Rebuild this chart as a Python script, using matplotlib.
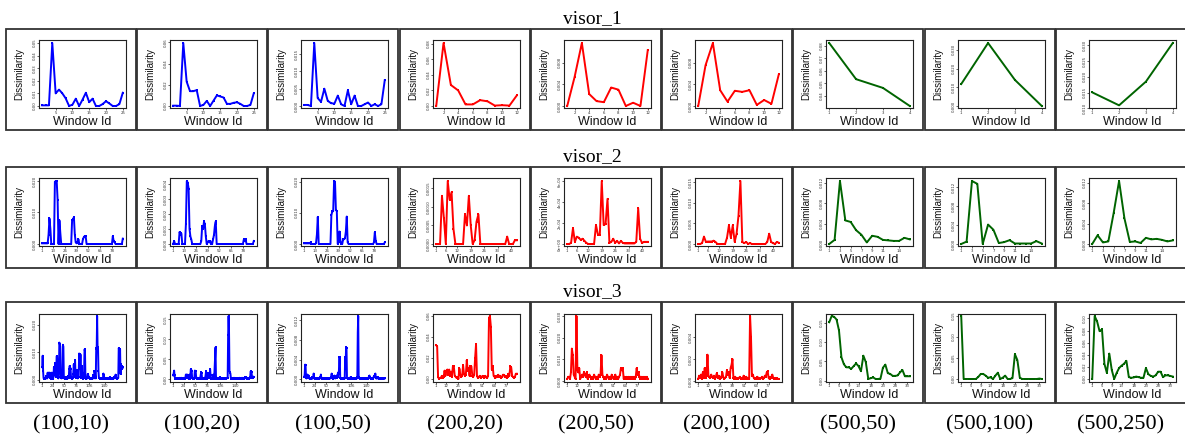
import matplotlib
matplotlib.use("Agg")
import matplotlib.pyplot as plt
from matplotlib.patches import Rectangle

W, H = 1185, 440

row_titles = ["visor_1", "visor_2", "visor_3"]
settings = ["(100,10)", "(100,20)", "(100,50)", "(200,20)", "(200,50)",
            "(200,100)", "(500,50)", "(500,100)", "(500,250)"]
line_colors = ["#0000FF", "#0000FF", "#0000FF", "#FF0000", "#FF0000",
               "#FF0000", "#006400", "#006400", "#006400"]

# ---------------- visor_1 ----------------
v1_100_10 = [0.0005, 0.0005, 0.0005, 0.0500, 0.0100, 0.0130, 0.0100, 0.0060, 0.0000, 0.0010,
             0.0058, 0.0000, 0.0050, 0.0105, 0.0030, 0.0058, 0.0000, 0.0000, 0.0015, 0.0038,
             0.0020, 0.0000, 0.0000, 0.0015, 0.0105]
v1_100_20 = [0.0003, 0.0003, 0.0000, 0.0595, 0.0230, 0.0140, 0.0140, 0.0150, 0.0000, 0.0010,
             0.0048, 0.0000, 0.0050, 0.0100, 0.0090, 0.0080, 0.0020, 0.0020, 0.0030, 0.0035,
             0.0020, 0.0000, 0.0000, 0.0010, 0.0120]
v1_100_50 = [0.0003, 0.0003, 0.0000, 0.0182, 0.0023, 0.0012, 0.0050, 0.0015, 0.0008, 0.0007,
             0.0030, 0.0005, 0.0000, 0.0045, 0.0005, 0.0030, 0.0000, 0.0000, 0.0005, 0.0010,
             0.0000, 0.0005, 0.0000, 0.0005, 0.0075]
v1_200_20 = [0.000, 0.081, 0.027, 0.020, 0.002, 0.002, 0.0075, 0.006, 0.0005, 0.001, 0.0005, 0.0135]
v1_200_50 = [0.0000, 0.0053, 0.0116, 0.0022, 0.0009, 0.0007, 0.0034, 0.0030, 0.0000, 0.0006, 0.0000, 0.0103]
v1_200_100 = [0.0000, 0.0075, 0.0116, 0.0029, 0.0008, 0.0028, 0.0026, 0.0029, 0.0002, 0.0011, 0.0004, 0.0058]
v1_500_50 = [0.0820, 0.0534, 0.0465, 0.0322]
v1_500_100 = [0.0117, 0.0336, 0.0139, 0.0000]
v1_500_250 = [0.0151, 0.0110, 0.0185, 0.0307]

# ---------------- visor_2 ----------------
v2_100_10 = [0.0002, 0.0002, 0.0002, 0.0002, 0.0002, 0.0002, 0.0002, 0.0030, 0.0081, 0.0048,
             0.0000, 0.0000, 0.0000, 0.0000, 0.0198, 0.0199, 0.0200, 0.0140, 0.0000, 0.0075,
             0.0035, 0.0000, 0.0000, 0.0000, 0.0000, 0.0000, 0.0000, 0.0000, 0.0000, 0.0000,
             0.0000, 0.0000, 0.0000, 0.0075, 0.0078, 0.0085, 0.0030, 0.0005, 0.0002, 0.0005,
             0.0015, 0.0000, 0.0000, 0.0000, 0.0000, 0.0015, 0.0022, 0.0025, 0.0025, 0.0000,
             0.0000, 0.0000, 0.0000, 0.0000, 0.0000, 0.0000, 0.0000, 0.0000, 0.0000, 0.0000,
             0.0000, 0.0000, 0.0000, 0.0000, 0.0000, 0.0000, 0.0000, 0.0000, 0.0000, 0.0000,
             0.0000, 0.0000, 0.0000, 0.0000, 0.0000, 0.0000, 0.0000, 0.0000, 0.0025, 0.0008,
             0.0005, 0.0000, 0.0000, 0.0000, 0.0000, 0.0000, 0.0000, 0.0000, 0.0000, 0.0017]
v2_100_20 = [0.0000, 0.0002, 0.0000, 0.0000, 0.0000, 0.0000, 0.0000, 0.0008, 0.0006, 0.0007,
             0.0000, 0.0000, 0.0000, 0.0000, 0.0013, 0.0042, 0.0041, 0.0037, 0.0010, 0.0005,
             0.0003, 0.0000, 0.0000, 0.0000, 0.0000, 0.0000, 0.0000, 0.0000, 0.0000, 0.0000,
             0.0000, 0.0002, 0.0012, 0.0010, 0.0015, 0.0013, 0.0005, 0.0000, 0.0001, 0.0002,
             0.0001, 0.0002, 0.0000, 0.0000, 0.0003, 0.0006, 0.0012, 0.0015, 0.0000, 0.0000,
             0.0000, 0.0000, 0.0000, 0.0000, 0.0000, 0.0000, 0.0000, 0.0000, 0.0000, 0.0000,
             0.0000, 0.0000, 0.0000, 0.0000, 0.0000, 0.0000, 0.0000, 0.0000, 0.0000, 0.0000,
             0.0000, 0.0000, 0.0000, 0.0000, 0.0000, 0.0000, 0.0000, 0.0000, 0.0003, 0.0002,
             0.0003, 0.0000, 0.0000, 0.0000, 0.0000, 0.0000, 0.0000, 0.0000, 0.0000, 0.0002]
v2_100_50 = [0.0002, 0.0002, 0.0002, 0.0002, 0.0002, 0.0002, 0.0002, 0.0005, 0.0000, 0.0000,
             0.0000, 0.0000, 0.0000, 0.0002, 0.0030, 0.0087, 0.0000, 0.0000, 0.0000, 0.0000,
             0.0000, 0.0000, 0.0000, 0.0000, 0.0000, 0.0000, 0.0000, 0.0000, 0.0000, 0.0000,
             0.0092, 0.0105, 0.0105, 0.0202, 0.0200, 0.0110, 0.0105, 0.0000, 0.0005, 0.0040,
             0.0010, 0.0000, 0.0000, 0.0015, 0.0015, 0.0018, 0.0040, 0.0088, 0.0005, 0.0000,
             0.0000, 0.0000, 0.0000, 0.0000, 0.0000, 0.0000, 0.0000, 0.0000, 0.0000, 0.0000,
             0.0000, 0.0000, 0.0000, 0.0000, 0.0000, 0.0000, 0.0000, 0.0000, 0.0000, 0.0000,
             0.0000, 0.0000, 0.0000, 0.0000, 0.0000, 0.0000, 0.0000, 0.0005, 0.0037, 0.0010,
             0.0000, 0.0000, 0.0000, 0.0000, 0.0000, 0.0000, 0.0000, 0.0000, 0.0000, 0.0005]
v2_200_20 = [0.0000, 0.0000, 0.0000, 0.0013, 0.0007, 0.0000, 0.0017, 0.0012, 0.0014, 0.0004,
             0.0000, 0.0000, 0.0000, 0.0000, 0.0000, 0.0008, 0.0005, 0.0013, 0.0005, 0.0000,
             0.0001, 0.0006, 0.0008, 0.0000, 0.0000, 0.0000, 0.0000, 0.0000, 0.0000, 0.0000,
             0.0000, 0.0000, 0.0000, 0.0000, 0.0000, 0.0000, 0.0000, 0.0002, 0.0000, 0.0000,
             0.0000, 0.0001, 0.0001]
v2_200_50 = [0.0000, 0.0000, 0.00001, 0.00015, 0.00002, 0.00007, 0.00006, 0.00004, 0.00005, 0.00003,
             0.00001, 0.0000, 0.0000, 0.0000, 0.0000, 0.00018, 0.00009, 0.00009, 0.00060, 0.00018,
             0.00019, 0.00043, 0.00001, 0.00002, 0.00005, 0.00001, 0.00003, 0.000005, 0.00003, 0.00001,
             0.000005, 0.000005, 0.000005, 0.000005, 0.000005, 0.000005, 0.00002, 0.00034, 0.00005, 0.00001,
             0.00002, 0.00002, 0.00002]
v2_200_100 = [0.0000, 0.0000, 0.0002, 0.0018, 0.0005, 0.0006, 0.0006, 0.0006, 0.0008, 0.0005,
              0.0000, 0.0000, 0.0000, 0.0000, 0.0000, 0.0015, 0.0045, 0.0015, 0.0045, 0.0005,
              0.0025, 0.0069, 0.0153, 0.0005, 0.0002, 0.0005, 0.0000, 0.0002, 0.0000, 0.0000,
              0.0000, 0.0000, 0.0000, 0.0000, 0.0000, 0.0000, 0.0005, 0.0025, 0.0005, 0.0002,
              0.0000, 0.0005, 0.0003]
v2_500_50 = [0.0000, 0.0008, 0.0123, 0.0046, 0.0043, 0.0027, 0.0018, 0.0003, 0.0016, 0.0014,
             0.0008, 0.0007, 0.0006, 0.0006, 0.0012, 0.0009]
v2_500_100 = [0.0000, 0.0005, 0.0133, 0.0127, 0.0000, 0.0041, 0.0030, 0.0002, 0.0004, 0.0008,
              0.0001, 0.0001, 0.0001, 0.0001, 0.0006, 0.0001]
v2_500_250 = [0.0000, 0.0017, 0.0003, 0.0005, 0.0061, 0.0123, 0.0050, 0.0004, 0.0005, 0.0002,
              0.0012, 0.0009, 0.0010, 0.0008, 0.0005, 0.0007]

# ---------------- visor_3 ----------------
v3_100_10 = [0.0045, 0.0087, 0.0030, 0.0005, 0.0003, 0.0006, 0.0004, 0.0002, 0.0005, 0.0012,
             0.0006, 0.0004, 0.0025, 0.0008, 0.0025, 0.0010, 0.0025, 0.0025, 0.0006, 0.0008,
             0.0003, 0.0025, 0.0025, 0.0006, 0.0003, 0.0010, 0.0045, 0.0015, 0.0040, 0.0060,
             0.0020, 0.0010, 0.0085, 0.0085, 0.0030, 0.0005, 0.0004, 0.0010, 0.0135, 0.0130,
             0.0120, 0.0030, 0.0005, 0.0004, 0.0020, 0.0006, 0.0127, 0.0120, 0.0010, 0.0004,
             0.0005, 0.0003, 0.0008, 0.0004, 0.0002, 0.0006, 0.0003, 0.0005, 0.0012, 0.0006,
             0.0040, 0.0050, 0.0045, 0.0040, 0.0008, 0.0004, 0.0006, 0.0003, 0.0005, 0.0020,
             0.0055, 0.0045, 0.0010, 0.0070, 0.0020, 0.0006, 0.0035, 0.0035, 0.0008, 0.0004,
             0.0006, 0.0010, 0.0095, 0.0094, 0.0040, 0.0092, 0.0030, 0.0006, 0.0050, 0.0008,
             0.0004, 0.0003, 0.0006, 0.0025, 0.0110, 0.0105, 0.0010, 0.0004, 0.0003, 0.0006,
             0.0004, 0.0020, 0.0018, 0.0006, 0.0010, 0.0004, 0.0003, 0.0005, 0.0002, 0.0004,
             0.0003, 0.0006, 0.0004, 0.0015, 0.0008, 0.0004, 0.0030, 0.0025, 0.0008, 0.0004,
             0.0115, 0.0110, 0.0232, 0.0120, 0.0115, 0.0030, 0.0006, 0.0005, 0.0003, 0.0004,
             0.0002, 0.0005, 0.0003, 0.0004, 0.0002, 0.0006, 0.0022, 0.0015, 0.0004, 0.0003,
             0.0005, 0.0002, 0.0004, 0.0003, 0.0006, 0.0004, 0.0002, 0.0005, 0.0003, 0.0006,
             0.0008, 0.0004, 0.0002, 0.0005, 0.0003, 0.0004, 0.0002, 0.0006, 0.0003, 0.0004,
             0.0010, 0.0005, 0.0008, 0.0018, 0.0006, 0.0004, 0.0003, 0.0005, 0.0004, 0.0006,
             0.0115, 0.0110, 0.0030, 0.0110, 0.0020, 0.0055, 0.0045, 0.0050, 0.0040, 0.0045]
v3_100_20 = [0.010, 0.015, 0.022, 0.010, 0.002, 0.001, 0.003, 0.002, 0.001, 0.002,
             0.003, 0.002, 0.001, 0.003, 0.002, 0.004, 0.003, 0.002, 0.004, 0.003,
             0.002, 0.001, 0.003, 0.002, 0.004, 0.003, 0.002, 0.003, 0.012, 0.012,
             0.004, 0.012, 0.011, 0.003, 0.002, 0.004, 0.012, 0.003, 0.002, 0.025,
             0.024, 0.022, 0.004, 0.002, 0.003, 0.002, 0.001, 0.003, 0.022, 0.021,
             0.020, 0.003, 0.002, 0.004, 0.002, 0.001, 0.003, 0.002, 0.001, 0.002,
             0.004, 0.010, 0.018, 0.016, 0.003, 0.002, 0.001, 0.003, 0.002, 0.004,
             0.003, 0.002, 0.012, 0.020, 0.012, 0.003, 0.002, 0.008, 0.015, 0.004,
             0.003, 0.012, 0.025, 0.010, 0.003, 0.002, 0.004, 0.002, 0.003, 0.012,
             0.004, 0.002, 0.030, 0.060, 0.080, 0.005, 0.002, 0.003, 0.001, 0.002,
             0.003, 0.002, 0.004, 0.003, 0.006, 0.002, 0.001, 0.002, 0.003, 0.001,
             0.002, 0.001, 0.002, 0.003, 0.002, 0.001, 0.002, 0.003, 0.002, 0.003,
             0.004, 0.003, 0.110, 0.158, 0.120, 0.020, 0.018, 0.015, 0.004, 0.002,
             0.003, 0.002, 0.001, 0.003, 0.002, 0.004, 0.002, 0.001, 0.003, 0.002,
             0.001, 0.002, 0.003, 0.002, 0.001, 0.003, 0.002, 0.004, 0.003, 0.002,
             0.003, 0.002, 0.001, 0.004, 0.002, 0.003, 0.002, 0.001, 0.002, 0.005,
             0.004, 0.005, 0.003, 0.002, 0.004, 0.002, 0.003, 0.002, 0.001, 0.002,
             0.003, 0.005, 0.020, 0.018, 0.019, 0.005, 0.003, 0.004, 0.007, 0.006]
v3_100_50 = [0.0005, 0.0010, 0.0030, 0.0029, 0.0003, 0.0002, 0.0004, 0.0010, 0.0008, 0.0003,
             0.0008, 0.0002, 0.0003, 0.0001, 0.0002, 0.0003, 0.0001, 0.0002, 0.0004, 0.0002,
             0.0003, 0.0012, 0.0003, 0.0002, 0.0001, 0.0003, 0.0002, 0.0001, 0.0002, 0.0001,
             0.0003, 0.0002, 0.0001, 0.0002, 0.0003, 0.0002, 0.0004, 0.0010, 0.0003, 0.0002,
             0.0001, 0.0002, 0.0003, 0.0001, 0.0002, 0.0001, 0.0003, 0.0002, 0.0001, 0.0002,
             0.0003, 0.0001, 0.0002, 0.0003, 0.0002, 0.0001, 0.0002, 0.0003, 0.0002, 0.0004,
             0.0006, 0.0012, 0.0003, 0.0002, 0.0001, 0.0002, 0.0004, 0.0008, 0.0004, 0.0002,
             0.0003, 0.0006, 0.0008, 0.0003, 0.0006, 0.0014, 0.0010, 0.0015, 0.0045, 0.0045,
             0.0003, 0.0002, 0.0001, 0.0002, 0.0003, 0.0001, 0.0002, 0.0003, 0.0002, 0.0001,
             0.0003, 0.0045, 0.0030, 0.0065, 0.0064, 0.0003, 0.0002, 0.0001, 0.0002, 0.0003,
             0.0002, 0.0001, 0.0003, 0.0005, 0.0002, 0.0001, 0.0002, 0.0003, 0.0001, 0.0002,
             0.0001, 0.0002, 0.0003, 0.0002, 0.0001, 0.0002, 0.0003, 0.0002, 0.0004, 0.0095,
             0.0128, 0.0005, 0.0003, 0.0002, 0.0001, 0.0002, 0.0003, 0.0001, 0.0002, 0.0001,
             0.0002, 0.0003, 0.0001, 0.0002, 0.0003, 0.0002, 0.0001, 0.0002, 0.0001, 0.0003,
             0.0002, 0.0001, 0.0002, 0.0004, 0.0006, 0.0008, 0.0004, 0.0002, 0.0001, 0.0002,
             0.0003, 0.0002, 0.0001, 0.0003, 0.0005, 0.0004, 0.0008, 0.0006, 0.0012, 0.0004,
             0.0002, 0.0003, 0.0002, 0.0004, 0.0003, 0.0002, 0.0001, 0.0002, 0.0003, 0.0002,
             0.0001, 0.0003, 0.0002, 0.0001, 0.0002, 0.0003, 0.0001, 0.0002, 0.0003, 0.0002]
v3_200_20 = [0.032, 0.031, 0.002, 0.000, 0.001, 0.001, 0.003, 0.001, 0.002, 0.008,
             0.003, 0.008, 0.009, 0.004, 0.009, 0.003, 0.007, 0.002, 0.012, 0.012,
             0.003, 0.002, 0.001, 0.002, 0.000, 0.010, 0.004, 0.002, 0.003, 0.013,
             0.005, 0.003, 0.004, 0.018, 0.008, 0.010, 0.003, 0.012, 0.012, 0.003,
             0.002, 0.004, 0.020, 0.033, 0.003, 0.001, 0.002, 0.003, 0.001, 0.002,
             0.003, 0.002, 0.001, 0.003, 0.002, 0.001, 0.003, 0.058, 0.060, 0.050,
             0.009, 0.012, 0.003, 0.002, 0.001, 0.003, 0.002, 0.004, 0.002, 0.003,
             0.001, 0.002, 0.004, 0.004, 0.002, 0.003, 0.001, 0.002, 0.005, 0.003,
             0.012, 0.011, 0.003, 0.002, 0.001, 0.002, 0.005, 0.005]
v3_200_50 = [0.001, 0.002, 0.002, 0.001, 0.004, 0.015, 0.012, 0.003, 0.002, 0.001,
             0.030, 0.005, 0.004, 0.006, 0.001, 0.002, 0.003, 0.002, 0.004, 0.003,
             0.002, 0.004, 0.001, 0.002, 0.003, 0.002, 0.001, 0.002, 0.001, 0.003,
             0.002, 0.001, 0.002, 0.001, 0.003, 0.002, 0.003, 0.012, 0.003, 0.002,
             0.001, 0.002, 0.001, 0.003, 0.002, 0.001, 0.002, 0.001, 0.003, 0.002,
             0.001, 0.002, 0.003, 0.001, 0.002, 0.001, 0.002, 0.003, 0.006, 0.005,
             0.006, 0.001, 0.002, 0.001, 0.002, 0.001, 0.002, 0.001, 0.002, 0.001,
             0.002, 0.001, 0.002, 0.001, 0.002, 0.006, 0.003, 0.004, 0.002, 0.001,
             0.002, 0.001, 0.002, 0.001, 0.002, 0.001, 0.002, 0.001]
v3_200_100 = [0.0002, 0.0005, 0.0003, 0.0006, 0.0002, 0.0008, 0.0003, 0.0012, 0.0003, 0.0005,
              0.0024, 0.0005, 0.0004, 0.0003, 0.0006, 0.0004, 0.0003, 0.0005, 0.0002, 0.0004,
              0.0007, 0.0003, 0.0005, 0.0002, 0.0004, 0.0003, 0.0008, 0.0004, 0.0002, 0.0003,
              0.0004, 0.0010, 0.0006, 0.0008, 0.0003, 0.0012, 0.0015, 0.0020, 0.0003, 0.0002,
              0.0004, 0.0002, 0.0003, 0.0002, 0.0003, 0.0004, 0.0002, 0.0003, 0.0002, 0.0005,
              0.0003, 0.0002, 0.0004, 0.0002, 0.0003, 0.0002, 0.0059, 0.0040, 0.0005, 0.0006,
              0.0003, 0.0002, 0.0003, 0.0002, 0.0004, 0.0002, 0.0003, 0.0002, 0.0003, 0.0004,
              0.0002, 0.0003, 0.0005, 0.0004, 0.0008, 0.0009, 0.0003, 0.0002, 0.0004, 0.0003,
              0.0006, 0.0003, 0.0002, 0.0003, 0.0002, 0.0003, 0.0002, 0.0002]
v3_500_50 = [0.151, 0.167, 0.165, 0.158, 0.130, 0.061, 0.043, 0.035, 0.035, 0.031,
             0.038, 0.045, 0.038, 0.025, 0.065, 0.048, 0.005, 0.007, 0.009, 0.005,
             0.005, 0.006, 0.034, 0.042, 0.020, 0.018, 0.013, 0.013, 0.014, 0.022,
             0.028, 0.012, 0.012, 0.012]
v3_500_100 = [0.150, 0.000, 0.000, 0.000, 0.000, 0.000, 0.000, 0.005, 0.012, 0.012,
              0.008, 0.003, 0.004, 0.000, 0.008, 0.015, 0.000, 0.003, 0.008, 0.000,
              0.000, 0.002, 0.059, 0.045, 0.003, 0.000, 0.000, 0.000, 0.000, 0.000,
              0.000, 0.000, 0.001, 0.000]
v3_500_250 = [0.000, 0.104, 0.095, 0.079, 0.082, 0.025, 0.010, 0.042, 0.015, 0.000,
              0.010, 0.018, 0.022, 0.025, 0.030, 0.003, 0.002, 0.0025, 0.004, 0.003,
              0.002, 0.002, 0.018, 0.008, 0.005, 0.004, 0.006, 0.012, 0.012, 0.003,
              0.006, 0.006, 0.005, 0.004]

series = [
    [v1_100_10, v1_100_20, v1_100_50, v1_200_20, v1_200_50, v1_200_100, v1_500_50, v1_500_100, v1_500_250],
    [v2_100_10, v2_100_20, v2_100_50, v2_200_20, v2_200_50, v2_200_100, v2_500_50, v2_500_100, v2_500_250],
    [v3_100_10, v3_100_20, v3_100_50, v3_200_20, v3_200_50, v3_200_100, v3_500_50, v3_500_100, v3_500_250],
]

# x tick values (window ids) per row / window-size group
xticks_rows = [
    [[5, 10, 15, 20, 25]] * 3 + [[2, 4, 6, 8, 10, 12]] * 3 + [[1, 2, 3, 4]] * 3,
    [[1, 13, 26, 39, 52, 65, 78]] * 3 + [[1, 6, 12, 19, 26, 33, 40]] * 3 + [[1, 3, 5, 7, 9, 11, 14]] * 3,
    [[1, 24, 50, 76, 106, 140]] * 3 + [[1, 12, 25, 38, 51, 64, 77]] * 3 + [[1, 5, 9, 13, 18, 23, 28, 33]] * 3,
]

# y tick labels per panel
ytick_labels = [
    [["0.00", "0.01", "0.02", "0.03", "0.04", "0.05"],
     ["0.00", "0.02", "0.04", "0.06"],
     ["0.000", "0.005", "0.010", "0.015"],
     ["0.00", "0.02", "0.04", "0.06", "0.08"],
     ["0.000", "0.004", "0.008"],
     ["0.000", "0.004", "0.008"],
     ["0.04", "0.05", "0.06", "0.07", "0.08"],
     ["0.000", "0.010", "0.020", "0.030"],
     ["0.010", "0.015", "0.020", "0.025", "0.030"]],
    [["0.000", "0.010", "0.020"],
     ["0.000", "0.001", "0.002", "0.003", "0.004"],
     ["0.000", "0.010", "0.020"],
     ["0.0000", "0.0005", "0.0010", "0.0015"],
     ["0e+00", "2e-04", "4e-04", "6e-04"],
     ["0.000", "0.005", "0.010", "0.015"],
     ["0.000", "0.004", "0.008", "0.012"],
     ["0.000", "0.004", "0.008", "0.012"],
     ["0.000", "0.004", "0.008", "0.012"]],
    [["0.000", "0.010", "0.020"],
     ["0.00", "0.05", "0.10", "0.15"],
     ["0.000", "0.004", "0.008", "0.012"],
     ["0.00", "0.02", "0.04", "0.06"],
     ["0.000", "0.010", "0.020", "0.030"],
     ["0.000", "0.002", "0.004"],
     ["0.00", "0.05", "0.10", "0.15"],
     ["0.00", "0.05", "0.10", "0.15"],
     ["0.00", "0.02", "0.04", "0.06", "0.08", "0.10"]],
]

col_x = [6, 137, 268, 400, 531, 662, 793, 925, 1056]
row_y = [29, 167, 302]
FW, FH = 130, 101

fig = plt.figure(figsize=(W / 100, H / 100), dpi=100)

def frac(x, y, w, h):
    return [x / W, 1 - (y + h) / H, w / W, h / H]

sans = ["Liberation Sans", "DejaVu Sans"]

for r in range(3):
    fig.text(0.5, 1 - (row_y[r] - 6) / H, row_titles[r], ha="center", va="baseline",
             family="Liberation Serif", fontsize=14)
    for c in range(9):
        x0, y0 = col_x[c], row_y[r]
        fig.add_artist(Rectangle((x0 / W, 1 - (y0 + FH) / H), FW / W, FH / H,
                                 transform=fig.transFigure, fill=False, lw=1.3, ec="#333333"))
        ax = fig.add_axes(frac(x0 + 33, y0 + 11.5, 87, 68))
        vals = series[r][c]
        xs = list(range(1, len(vals) + 1))
        ax.plot(xs, vals, color=line_colors[c], lw=1.4, marker="s", ms=1.6, mew=0,
                solid_joinstyle="round")
        ax.margins(x=0.04, y=0.04)
        ax.set_xticks(xticks_rows[r][c])
        ax.set_xticklabels([str(v) for v in xticks_rows[r][c]])
        labs = ytick_labels[r][c]
        ax.set_yticks([float(s) for s in labs])
        ax.set_yticklabels(labs)
        ax.tick_params(axis="both", length=1.5, width=0.5, pad=0.4, labelsize=2.8,
                       labelcolor="#333333", color="#222222")
        ax.tick_params(axis="y", labelrotation=90)
        for lab in ax.get_yticklabels():
            lab.set_va("center")
        for s in ax.spines.values():
            s.set_linewidth(0.8)
            s.set_color("#222222")
        ax.text(-0.23, 0.5, "Dissimilarity", transform=ax.transAxes, rotation=90,
                ha="center", va="center", family=sans, fontsize=7.0, color="#111111")
        ax.text(0.5, -0.197, "Window Id", transform=ax.transAxes, ha="center",
                va="center", family=sans, fontsize=9.0, color="#111111")

for c in range(9):
    fig.text((col_x[c] + FW / 2) / W, 1 - 425 / H, settings[c], ha="center", va="center",
             family="Liberation Serif", fontsize=16)

fig.savefig("out.png", dpi=100)
